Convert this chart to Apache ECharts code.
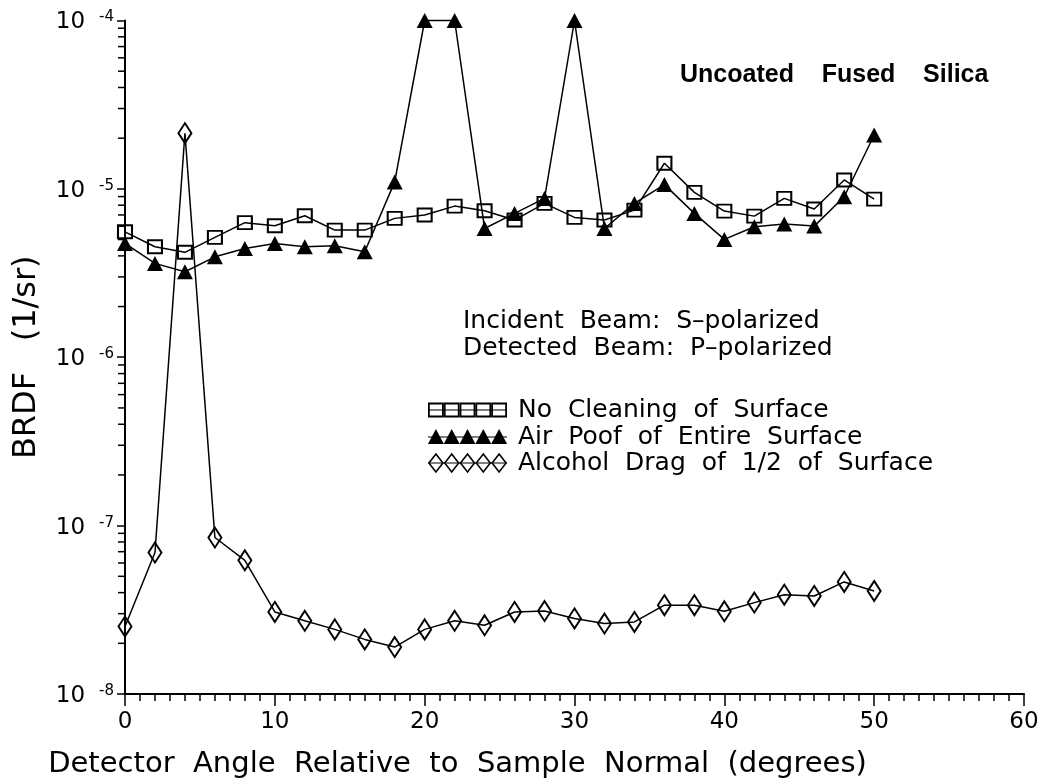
<!DOCTYPE html>
<html>
<head>
<meta charset="utf-8">
<script src="https://cdn.jsdelivr.net/npm/echarts@6/dist/echarts.min.js"></script>
<style>
html,body{margin:0;padding:0;background:#fff;}
#chart{width:1041px;height:780px;}
</style>
</head>
<body>
<div id="chart"></div>
<script>
// Detector angle (degrees)
var angles = [0,2,4,6,8,10,12,14,16,18,20,22,24,26,28,30,32,34,36,38,40,42,44,46,48,50];
// No Cleaning of Surface
var noCleaning = [5.56e-6,4.53e-6,4.2e-6,5.15e-6,6.3e-6,6.04e-6,6.92e-6,5.69e-6,5.69e-6,6.68e-6,6.99e-6,7.9e-6,7.41e-6,6.53e-6,8.2e-6,6.77e-6,6.53e-6,7.48e-6,1.42e-5,9.53e-6,7.38e-6,6.89e-6,8.78e-6,7.59e-6,1.13e-5,8.69e-6];
// Air Poof of Entire Surface
var airPoof = [4.74e-6,3.61e-6,3.22e-6,3.95e-6,4.43e-6,4.74e-6,4.53e-6,4.59e-6,4.23e-6,1.10e-5,1.0e-4,1.0e-4,5.82e-6,7.15e-6,8.78e-6,1.0e-4,5.82e-6,8.2e-6,1.06e-5,7.15e-6,5.01e-6,5.96e-6,6.18e-6,6.01e-6,8.98e-6,2.09e-5];
// Alcohol Drag of 1/2 of Surface
var alcoholDrag = [2.52e-8,6.92e-8,2.14e-5,8.5e-8,6.22e-8,3.07e-8,2.72e-8,2.42e-8,2.11e-8,1.90e-8,2.42e-8,2.72e-8,2.56e-8,3.07e-8,3.11e-8,2.81e-8,2.62e-8,2.68e-8,3.37e-8,3.37e-8,3.10e-8,3.49e-8,3.89e-8,3.82e-8,4.63e-8,4.09e-8];
var seriesNames = ['No Cleaning of Surface','Air Poof of Entire Surface','Alcohol Drag of 1/2 of Surface'];
var xTicks = [0,10,20,30,40,50,60];
var yDecades = [1e-8,1e-7,1e-6,1e-5,1e-4];
var yMinorMult = [2,3,4,5,6,7,8,9];

var FONT = 'DejaVu Sans';
var yMinorTicks = [];
for (var d = 0; d < yDecades.length - 1; d++) {
  for (var m = 0; m < yMinorMult.length; m++) {
    yMinorTicks.push([0, yDecades[d] * yMinorMult[m]]);
  }
}
function pairs(vals) { return angles.map(function (a, i) { return [a, vals[i]]; }); }
function wide(s) { return s.split(' ').join('  '); }

var chart = echarts.init(document.getElementById('chart'), null, {renderer: 'canvas'});

// legend graphics
function legendRow(y, kind, label) {
  var children = [];
  var x0 = 428, w = 15.8;
  children.push({type: 'line', shape: {x1: x0, y1: y, x2: x0 + 5 * w, y2: y}, style: {stroke: '#000', lineWidth: 1.2}});
  for (var i = 0; i < 5; i++) {
    var cx = x0 + w * i + w / 2;
    if (kind === 'rect') {
      children.push({type: 'rect', shape: {x: cx - 7, y: y - 6.5, width: 14, height: 13}, style: {fill: 'none', stroke: '#000', lineWidth: 1.8}});
    } else if (kind === 'tri') {
      children.push({type: 'polygon', shape: {points: [[cx, y - 8], [cx + 8, y + 7], [cx - 8, y + 7]]}, style: {fill: '#000'}});
    } else {
      children.push({type: 'polygon', shape: {points: [[cx, y - 9], [cx + 7, y], [cx, y + 9], [cx - 7, y]]}, style: {fill: 'none', stroke: '#000', lineWidth: 1.6}});
    }
  }
  children.push({type: 'text', x: 518, y: y, style: {text: wide(label), font: '25px "' + FONT + '"', fill: '#000', verticalAlign: 'middle', align: 'left'}});
  return {type: 'group', children: children};
}

var option = {
  backgroundColor: '#fff',
  animation: false,
  title: {
    text: 'Uncoated    Fused    Silica',
    left: 675, top: 58,
    textStyle: {fontFamily: 'Liberation Sans', fontWeight: 'bold', fontSize: 25, color: '#000'}
  },
  grid: {left: 125, right: 17, top: 20.5, bottom: 86, containLabel: false, outerBoundsMode: 'none'},
  xAxis: {
    type: 'value', min: 0, max: 60, interval: 10,
    name: wide('Detector Angle Relative to Sample Normal (degrees)'),
    nameLocation: 'middle', nameGap: 56,
    nameTextStyle: {fontFamily: FONT, fontSize: 29, color: '#000', padding: [0, 234, 0, 0]},
    axisLine: {show: true, lineStyle: {color: '#000', width: 2}},
    axisTick: {show: true, inside: false, length: 12, lineStyle: {color: '#000', width: 1.5}},
    minorTick: {show: true, splitNumber: 10, length: 7, lineStyle: {color: '#000', width: 1.5}},
    axisLabel: {fontFamily: FONT, fontSize: 23, color: '#000', margin: 17},
    splitLine: {show: false}, minorSplitLine: {show: false}
  },
  yAxis: {
    type: 'log', logBase: 10, min: 1e-8, max: 1e-4,
    name: 'BRDF   (1/sr)',
    nameLocation: 'middle', nameGap: 82, nameRotate: 90,
    nameTextStyle: {fontFamily: FONT, fontSize: 32, color: '#000'},
    axisLine: {show: true, lineStyle: {color: '#000', width: 2}},
    axisTick: {show: true, inside: false, length: 8, lineStyle: {color: '#000', width: 1.5}},
    axisLabel: {
      margin: 11,
      formatter: function (v) {
        var e = Math.round(Math.log(v) / Math.LN10);
        return '{b|10}{s|' + e + '}';
      },
      rich: {
        b: {fontFamily: FONT, fontSize: 23, color: '#000', padding: [4, 14, 0, 0]},
        s: {fontFamily: FONT, fontSize: 15, color: '#000', verticalAlign: 'top', padding: [3, 0, 0, 0]}
      }
    },
    splitLine: {show: false}
  },
  graphic: [
    {type: 'text', left: 463, top: 308, style: {text: wide('Incident Beam: S\u2013polarized') + '\n' + wide('Detected Beam: P\u2013polarized'), font: '25px "' + FONT + '"', fill: '#000', lineHeight: 27}},
    legendRow(410, 'rect', seriesNames[0]),
    legendRow(437, 'tri', seriesNames[1]),
    legendRow(463, 'dia', seriesNames[2])
  ],
  series: [
    {
      name: seriesNames[0], type: 'line', data: pairs(noCleaning), clip: false,
      symbol: 'rect', symbolSize: [14, 13], z: 3,
      lineStyle: {color: '#000', width: 1.5},
      itemStyle: {color: 'rgba(255,255,255,0)', borderColor: '#000', borderWidth: 2}
    },
    {
      name: seriesNames[1], type: 'line', data: pairs(airPoof), clip: false,
      symbol: 'triangle', symbolSize: [16, 15], z: 4,
      lineStyle: {color: '#000', width: 1.5},
      itemStyle: {color: '#000', borderColor: '#000', borderWidth: 0}
    },
    {
      name: seriesNames[2], type: 'line', data: pairs(alcoholDrag), clip: false,
      symbol: 'diamond', symbolSize: [13, 20], z: 3,
      lineStyle: {color: '#000', width: 1.5},
      itemStyle: {color: 'rgba(255,255,255,0)', borderColor: '#000', borderWidth: 2}
    },
    {
      name: 'yMinor', type: 'custom', data: yMinorTicks, clip: false, silent: true, z: 5,
      renderItem: function (params, api) {
        var p = api.coord([api.value(0), api.value(1)]);
        return {type: 'line', shape: {x1: p[0] - 7, y1: p[1], x2: p[0], y2: p[1]}, style: {stroke: '#000', lineWidth: 1.5}};
      }
    }
  ]
};
chart.setOption(option);
</script>
</body>
</html>
